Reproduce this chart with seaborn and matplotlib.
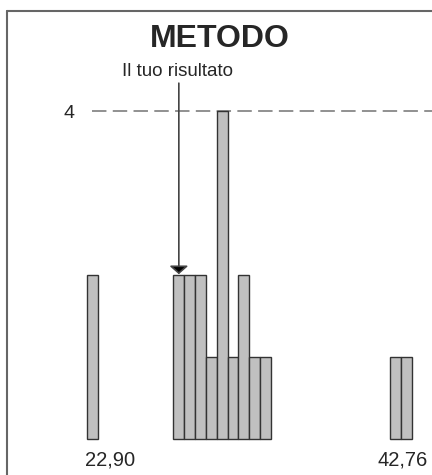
import matplotlib
matplotlib.use("Agg")
import matplotlib.pyplot as plt
from matplotlib.lines import Line2D
import numpy as np
import pandas as pd
import seaborn as sns

# histogram of results, 30 bins between the min and the max value
range_min = 22.90
range_max = 42.76
bin_counts = [2, 0, 0, 0, 0, 0, 0, 0, 2, 2, 2, 1, 4, 1, 2, 1, 1,
              0, 0, 0, 0, 0, 0, 0, 0, 0, 0, 0, 1, 1]
range_labels = ["22,90", "42,76"]
my_result = 28.53
max_count = 4
title = "METODO"
result_label = "Il tuo risultato"

sns.set_style("white")
plt.rcParams["font.family"] = ["Liberation Sans", "DejaVu Sans"]

edges = np.linspace(range_min, range_max, len(bin_counts) + 1)
df = pd.DataFrame({"value": edges[:-1] + 0.01, "count": bin_counts})

fig = plt.figure(figsize=(4.32, 4.75), dpi=100)
ax = fig.add_axes([0, 0, 1, 1])

sns.histplot(data=df, x="value", weights="count", bins=len(bin_counts),
             binrange=(range_min, range_max), ax=ax,
             color="#c0c0c0", alpha=1, edgecolor="#333333", linewidth=1)
# empty bins should not leave a line on the baseline
for patch in ax.patches:
    if patch.get_height() == 0:
        patch.set_visible(False)

ax.set_xlim(17.602, 44.0)
ax.set_ylim(-0.439, 5.354)
ax.set_axis_off()

# reference line at the max count
ax.hlines(max_count, 23.22, 44.0, colors="#888888", linewidth=1.3,
          linestyles=(0, (8, 3.5)), zorder=0)
ax.text(22.18, max_count - 0.03, str(max_count), ha="right", va="center", fontsize=14)

# range labels under the bars
ax.text(range_min - 0.1, -0.256, range_labels[0], ha="left", va="center", fontsize=14.5)
ax.text(0.991, 0.032, range_labels[1], ha="right", va="center", fontsize=14.5,
        transform=ax.transAxes)

# arrow pointing at the user's result
ax.annotate("", xy=(my_result, 2.01), xytext=(my_result, 4.34),
            arrowprops=dict(arrowstyle="-|>,head_length=0.35,head_width=0.4",
                            color="#444444", lw=1.2, mutation_scale=14,
                            shrinkA=0, shrinkB=0, fc="black"))
ax.text(my_result - 0.07, 4.48, result_label, ha="center", va="center", fontsize=13.5)

fig.text(0.509, 0.917, title, ha="center", va="center", fontsize=23,
         fontweight="bold")

# frame (left and top)
x0 = 7 / 432
y0 = 1 - 10.5 / 475
fig.add_artist(Line2D([x0, x0], [0, y0], color="#666666", lw=1.5))
fig.add_artist(Line2D([x0, 1], [y0, y0], color="#666666", lw=1.5))

fig.savefig("out.png", dpi=100)
